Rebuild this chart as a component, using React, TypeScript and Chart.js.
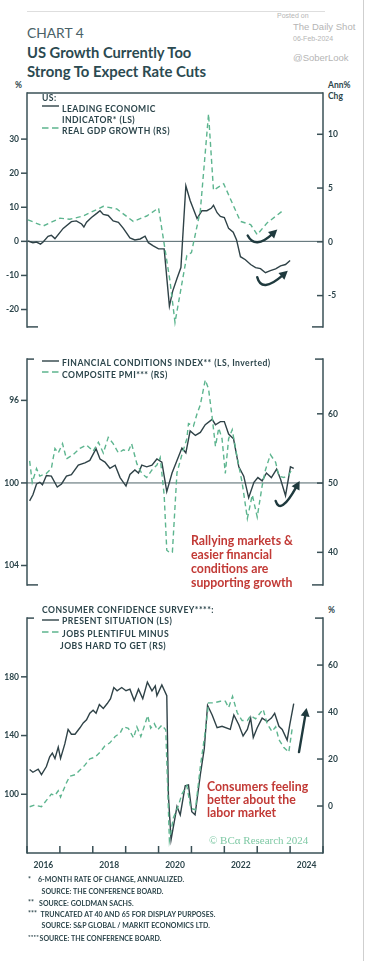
import React, { useEffect, useRef } from 'react';
import { Chart, registerables } from 'chart.js';
Chart.register(...registerables);

// ---------------- DATA ----------------
// Panel 1: Leading Economic Indicator (LS, %) and Real GDP growth (RS, Ann% Chg)
const leiYears = [2016.03, 2016.18, 2016.29, 2016.41, 2016.49, 2016.64, 2016.74, 2016.85, 2017.1, 2017.35, 2017.5, 2017.66, 2017.73, 2017.81, 2017.96, 2018.12, 2018.22, 2018.32, 2018.47, 2018.62, 2018.78, 2018.93, 2019.13, 2019.28, 2019.44, 2019.59, 2019.69, 2019.84, 2020.0, 2020.17, 2020.33, 2020.43, 2020.56, 2020.68, 2020.83, 2020.96, 2021.17, 2021.32, 2021.47, 2021.6, 2021.67, 2021.78, 2021.88, 2022.0, 2022.13, 2022.27, 2022.37, 2022.49, 2022.64, 2022.8, 2022.95, 2023.1, 2023.25, 2023.4, 2023.56, 2023.71, 2023.86, 2024.0];
const leiValues = [0.1, -0.4, -0.2, -0.8, -0.2, 1.5, 1.8, 0.8, 3.8, 5.8, 6.0, 5.1, 4.2, 5.6, 7.0, 8.2, 9.0, 7.9, 7.6, 6.0, 5.6, 3.8, 1.0, 0.4, 0.7, 1.5, -0.4, -1.3, -2.2, -2.2, -19.0, -14.6, -10.9, -7.7, 16.3, 12.0, 6.7, 9.0, 9.0, 9.7, 10.6, 8.4, 7.3, 7.0, 3.8, 2.7, 0.5, -4.5, -5.4, -6.8, -7.7, -8.0, -9.2, -8.6, -8.1, -7.2, -6.8, -5.6];
const gdpYears = [2016.03, 2016.49, 2017.0, 2017.3, 2017.71, 2018.32, 2018.73, 2019.23, 2019.64, 2020.0, 2020.35, 2020.5, 2020.86, 2021.0, 2021.27, 2021.52, 2021.67, 2021.98, 2022.49, 2022.8, 2023.0, 2023.3, 2023.81];
const gdpValues = [2.05, 1.47, 2.2, 2.1, 2.4, 3.3, 3.06, 1.9, 2.4, 3.15, -3.7, -7.5, -1.27, -1.0, 2.9, 11.9, 4.8, 5.4, 1.9, 1.6, 0.67, 1.76, 2.97];

// Panel 2: Financial conditions index (LS, inverted) and Composite PMI (RS)
const fciYears = [2016.08, 2016.18, 2016.29, 2016.39, 2016.47, 2016.59, 2016.74, 2016.92, 2017.05, 2017.2, 2017.35, 2017.56, 2017.76, 2017.91, 2018.1, 2018.22, 2018.37, 2018.52, 2018.68, 2018.83, 2019.01, 2019.13, 2019.28, 2019.39, 2019.49, 2019.64, 2019.8, 2019.95, 2020.1, 2020.25, 2020.41, 2020.56, 2020.71, 2020.83, 2020.96, 2021.12, 2021.27, 2021.42, 2021.63, 2021.73, 2021.88, 2022.0, 2022.13, 2022.28, 2022.44, 2022.59, 2022.74, 2022.9, 2023.02, 2023.15, 2023.28, 2023.43, 2023.59, 2023.71, 2023.86, 2024.01, 2024.11];
const fciValues = [100.87, 100.57, 100.05, 99.97, 100.09, 99.64, 99.67, 100.2, 100.05, 99.67, 99.6, 99.14, 99.03, 98.91, 98.34, 98.84, 98.99, 99.29, 99.14, 99.74, 100.15, 99.59, 99.37, 99.52, 99.14, 99.22, 99.14, 98.84, 98.99, 100.42, 99.52, 98.91, 98.31, 98.54, 97.48, 97.7, 97.55, 97.18, 96.92, 97.18, 97.03, 97.03, 97.63, 97.86, 99.22, 99.67, 100.72, 99.97, 99.74, 99.9, 99.52, 99.74, 99.33, 99.82, 100.62, 99.22, 99.29];
const pmiYears = [2016.08, 2016.16, 2016.29, 2016.39, 2016.59, 2016.74, 2016.85, 2016.95, 2017.08, 2017.2, 2017.4, 2017.61, 2017.81, 2018.01, 2018.17, 2018.32, 2018.47, 2018.62, 2018.78, 2018.93, 2019.08, 2019.18, 2019.34, 2019.49, 2019.64, 2019.8, 2019.95, 2020.05, 2020.17, 2020.25, 2020.33, 2020.42, 2020.56, 2020.71, 2020.86, 2020.91, 2021.06, 2021.17, 2021.27, 2021.42, 2021.52, 2021.63, 2021.73, 2021.83, 2021.93, 2022.03, 2022.13, 2022.24, 2022.39, 2022.54, 2022.7, 2022.85, 2023.0, 2023.15, 2023.25, 2023.4, 2023.56, 2023.66, 2023.81, 2023.96, 2024.07];
const pmiValues = [53.2, 50.1, 52.1, 51.0, 51.4, 52.1, 55.0, 54.35, 55.7, 53.5, 54.1, 55.0, 55.5, 54.6, 55.9, 54.35, 56.6, 55.7, 54.35, 54.8, 54.6, 55.7, 52.8, 51.4, 50.8, 51.9, 52.6, 53.7, 48.3, 40.3, 40.0, 40.0, 51.5, 54.1, 56.4, 58.6, 58.2, 60.0, 61.3, 64.9, 63.6, 59.5, 55.3, 57.95, 56.4, 51.4, 56.4, 57.7, 53.7, 50.1, 44.9, 48.3, 45.1, 49.6, 51.9, 54.1, 53.0, 51.0, 50.8, 51.2, 52.1];

// Panel 3: Consumer confidence present situation (LS) and jobs plentiful minus hard to get (RS, %)
const presYears = [2016.08, 2016.18, 2016.34, 2016.44, 2016.59, 2016.69, 2016.77, 2016.85, 2016.95, 2017.02, 2017.15, 2017.25, 2017.35, 2017.46, 2017.61, 2017.71, 2017.81, 2017.91, 2018.01, 2018.1, 2018.2, 2018.32, 2018.44, 2018.54, 2018.64, 2018.74, 2018.88, 2019.01, 2019.13, 2019.26, 2019.39, 2019.52, 2019.66, 2019.8, 2019.9, 2019.95, 2020.1, 2020.25, 2020.3, 2020.38, 2020.56, 2020.66, 2020.81, 2020.91, 2021.01, 2021.11, 2021.27, 2021.39, 2021.49, 2021.63, 2021.78, 2021.93, 2022.18, 2022.29, 2022.44, 2022.57, 2022.7, 2022.8, 2022.88, 2023.0, 2023.15, 2023.3, 2023.43, 2023.53, 2023.66, 2023.76, 2023.91, 2023.99, 2024.11];
const presValues = [116.9, 115.0, 117.1, 113.4, 118.9, 125.5, 128.1, 124.4, 132.1, 124.4, 134.3, 144.2, 140.9, 140.9, 145.3, 148.6, 150.7, 155.2, 157.3, 155.2, 161.1, 158.5, 161.8, 165.1, 172.7, 170.5, 172.7, 170.5, 171.6, 163.9, 171.6, 165.1, 176.4, 170.5, 173.8, 167.2, 174.5, 167.2, 99.1, 69.0, 91.6, 86.0, 105.7, 106.4, 88.1, 86.0, 113.4, 131.0, 160.6, 154.0, 145.3, 146.3, 144.2, 154.0, 147.4, 139.7, 144.2, 151.9, 138.7, 145.3, 151.9, 149.6, 151.9, 155.2, 146.3, 144.2, 136.9, 147.4, 161.8];
const jobsYears = [2016.08, 2016.23, 2016.44, 2016.59, 2016.74, 2016.85, 2016.95, 2017.02, 2017.2, 2017.3, 2017.46, 2017.61, 2017.76, 2017.91, 2018.07, 2018.22, 2018.37, 2018.52, 2018.68, 2018.83, 2018.93, 2019.08, 2019.24, 2019.34, 2019.46, 2019.56, 2019.67, 2019.76, 2019.87, 2019.97, 2020.1, 2020.22, 2020.33, 2020.45, 2020.61, 2020.71, 2020.86, 2020.98, 2021.12, 2021.27, 2021.42, 2021.52, 2021.67, 2021.88, 2022.03, 2022.13, 2022.25, 2022.39, 2022.54, 2022.7, 2022.8, 2022.95, 2023.18, 2023.3, 2023.45, 2023.56, 2023.66, 2023.81, 2023.96, 2024.07];
const jobsValues = [-0.3, 0.4, -0.3, 2.4, 5.1, 4.5, 6.5, 3.8, 9.9, 12.7, 13.3, 15.3, 17.4, 20.1, 20.8, 22.9, 25.6, 26.9, 29.6, 31.0, 33.7, 33.1, 29.0, 33.7, 29.6, 33.7, 38.5, 33.1, 35.1, 32.4, 34.4, 32.4, -14.6, -5.1, 0.4, 5.1, 8.6, -1.0, -1.6, 16.7, 31.7, 43.9, 43.9, 44.6, 44.6, 41.9, 46.7, 39.8, 36.4, 36.4, 38.5, 37.1, 41.2, 35.1, 31.7, 33.7, 28.3, 24.9, 22.9, 33.7];

// Axis ticks
const yearTicks = [2016, 2017, 2018, 2019, 2020, 2021, 2022, 2023, 2024, 2025];
const yearLabelYears = [2016, 2018, 2020, 2022, 2024];
const p1LeftTicks = [-20, -10, 0, 10, 20, 30];
const p1RightTicks = [-5, 0, 5, 10];
const p2LeftTicks = [96, 100, 104];
const p2RightTicks = [40, 50, 60];
const p3LeftTicks = [100, 140, 180];
const p3RightTicks = [0, 20, 40, 60];

// Annotation arrows (data coordinates: year, left-axis value)
const p1Arrows = [
  { from: [2022.71, 1.7], ctrl: [2022.94, -2.5], to: [2023.61, 3.5] },
  { from: [2023.0, -10.5], ctrl: [2023.13, -15.4], to: [2023.93, -8.65] },
];
const p2Arrows = [{ from: [2023.56, 100.87], ctrl: [2023.7, 101.6], to: [2024.29, 99.9] }];
const p3Arrows = [{ from: [2024.27, 128.7], ctrl: [2024.385, 143.75], to: [2024.5, 158.8] }];

// ---------------- STYLE ----------------
const FONT = 'Lato, "Open Sans", sans-serif';
const INK = '#2c454b';
const FRAME = '#3a5056';
const SOLID = '#2f4247';
const GREEN = '#5db58f';
const RED = '#c23a36';
const ARROW = '#1f3a3e';

const pts = (xs: number[], ys: number[]) => xs.map((x, i) => ({ x, y: ys[i] }));

const decorPlugin = {
  id: 'decor',
  beforeDatasetsDraw(chart: any, _a: any, opts: any) {
    const { ctx, chartArea: a, scales } = chart;
    if (opts.refValue !== undefined && opts.refValue !== null) {
      const y = scales.yL.getPixelForValue(opts.refValue);
      ctx.save();
      ctx.strokeStyle = '#4f6469';
      ctx.lineWidth = 1;
      ctx.beginPath();
      ctx.moveTo(a.left, y);
      ctx.lineTo(a.right, y);
      ctx.stroke();
      ctx.restore();
    }
  },
  afterDraw(chart: any, _a: any, opts: any) {
    const { ctx, chartArea: a, scales } = chart;
    const line = (x1: number, y1: number, x2: number, y2: number) => {
      ctx.beginPath();
      ctx.moveTo(x1, y1);
      ctx.lineTo(x2, y2);
      ctx.stroke();
    };
    ctx.save();
    ctx.strokeStyle = FRAME;
    ctx.lineWidth = 1.5;
    ctx.lineCap = 'butt';
    line(a.left, a.top - 0.75, a.left, a.bottom + 0.75);
    line(a.right, a.top - 0.75, a.right, a.bottom + 0.75);
    if (opts.topFull) line(a.left, a.top, a.right, a.top);
    else {
      line(a.left, a.top, a.left + 7, a.top);
      line(a.right - 8, a.top, a.right, a.top);
    }
    if (opts.bottomFull) {
      line(a.left, a.bottom, a.right, a.bottom);
      yearTicks.forEach((yr) => {
        const x = scales.x.getPixelForValue(yr);
        line(x, a.bottom - 7, x, a.bottom);
      });
    } else {
      line(a.left, a.bottom, a.left + 11, a.bottom);
      line(a.right - 11, a.bottom, a.right, a.bottom);
    }
    scales.yL.ticks.forEach((t: any) => {
      const y = scales.yL.getPixelForValue(t.value);
      line(a.left - 6, y, a.left, y);
    });
    scales.yR.ticks.forEach((t: any) => {
      const y = scales.yR.getPixelForValue(t.value);
      line(a.right - 6, y, a.right, y);
    });
    // arrows
    (opts.arrows || []).forEach((ar: any) => {
      const X = (v: number) => scales.x.getPixelForValue(v);
      const Y = (v: number) => scales.yL.getPixelForValue(v);
      const p0 = [X(ar.from[0]), Y(ar.from[1])];
      const pc = [X(ar.ctrl[0]), Y(ar.ctrl[1])];
      const p1 = [X(ar.to[0]), Y(ar.to[1])];
      const dx = p1[0] - pc[0];
      const dy = p1[1] - pc[1];
      const len = Math.hypot(dx, dy) || 1;
      const ux = dx / len;
      const uy = dy / len;
      const head = 8.5;
      const end = [p1[0] - ux * (head - 2), p1[1] - uy * (head - 2)];
      ctx.strokeStyle = ARROW;
      ctx.fillStyle = ARROW;
      ctx.lineWidth = 2.4;
      ctx.lineCap = 'round';
      ctx.beginPath();
      ctx.moveTo(p0[0], p0[1]);
      ctx.quadraticCurveTo(pc[0], pc[1], end[0], end[1]);
      ctx.stroke();
      ctx.beginPath();
      ctx.moveTo(p1[0], p1[1]);
      ctx.lineTo(p1[0] - ux * head - uy * 4.5, p1[1] - uy * head + ux * 4.5);
      ctx.lineTo(p1[0] - ux * head + uy * 4.5, p1[1] - uy * head - ux * 4.5);
      ctx.closePath();
      ctx.fill();
    });
    ctx.restore();
  },
};

const tickFont = { family: FONT, size: 8.5, weight: 'bold' as const };

function yAxis(pos: 'left' | 'right', min: number, max: number, ticks: number[], reverse = false) {
  return {
    type: 'linear',
    position: pos,
    min,
    max,
    reverse,
    afterBuildTicks: (s: any) => {
      s.ticks = ticks.map((v) => ({ value: v }));
    },
    afterFit: (s: any) => {
      s.width = pos === 'left' ? 27 : 43;
    },
    ticks: {
      autoSkip: false,
      padding: pos === 'left' ? 8 : 5,
      color: INK,
      font: tickFont,
      callback: (v: any) => String(v),
    },
    grid: { display: false, drawTicks: false },
    border: { display: false },
  };
}

function xAxis(show: boolean) {
  if (!show) return { type: 'linear', min: 2016, max: 2025, display: false };
  return {
    type: 'linear',
    position: 'bottom',
    min: 2016,
    max: 2025,
    afterBuildTicks: (s: any) => {
      s.ticks = yearLabelYears.map((v) => ({ value: v + 0.5 }));
    },
    afterFit: (s: any) => {
      s.height = 24;
    },
    ticks: {
      autoSkip: false,
      maxRotation: 0,
      padding: 7,
      color: INK,
      font: tickFont,
      callback: (v: any) => String(Math.floor(v)),
    },
    grid: { display: false, drawTicks: false },
    border: { display: false },
  };
}

function solidDs(data: any[], axis: string) {
  return { data, yAxisID: axis, borderColor: SOLID, borderWidth: 1.4, pointRadius: 0, tension: 0, fill: false };
}
function dashDs(data: any[], axis: string) {
  return { data, yAxisID: axis, borderColor: GREEN, borderWidth: 1.4, borderDash: [5, 3.5], pointRadius: 0, tension: 0, fill: false };
}

function usePanel(ref: React.RefObject<HTMLCanvasElement>, build: () => any) {
  useEffect(() => {
    if (!ref.current) return;
    const chart = new Chart(ref.current, build());
    return () => chart.destroy();
  }, []);
}

function baseOptions(scales: any, decor: any, padBottom: number) {
  return {
    responsive: false,
    animation: false,
    layout: { padding: { top: 5, bottom: padBottom, left: 0, right: 0 } },
    plugins: { legend: { display: false }, tooltip: { enabled: false }, decor },
    scales,
  };
}

const Txt = ({ x, cy, size, children, weight = 700, color = INK, family = FONT, style = {} }: any) => {
  const L = Math.round(size * 1.4);
  return (
    <div
      style={{
        position: 'absolute',
        left: x,
        top: cy - L / 2,
        fontSize: size,
        lineHeight: L + 'px',
        fontWeight: weight,
        color,
        fontFamily: family,
        whiteSpace: 'nowrap',
        ...style,
      }}
    >
      {children}
    </div>
  );
};

const LEG = { letterSpacing: '0.45px' };
const NOTE = { letterSpacing: '0.05px' };

const Sample = ({ y, dashed }: { y: number; dashed?: boolean }) => (
  <svg style={{ position: 'absolute', left: 42, top: y - 2 }} width={17} height={4}>
    <line x1={0} y1={2} x2={17} y2={2} stroke={dashed ? GREEN : SOLID} strokeWidth={1.4} strokeDasharray={dashed ? '6.5,3.5' : undefined} />
  </svg>
);

export default function App() {
  const c1 = useRef<HTMLCanvasElement>(null);
  const c2 = useRef<HTMLCanvasElement>(null);
  const c3 = useRef<HTMLCanvasElement>(null);

  usePanel(c1, () => ({
    type: 'line',
    data: { datasets: [dashDs(pts(gdpYears, gdpValues), 'yR'), solidDs(pts(leiYears, leiValues), 'yL')] },
    options: baseOptions(
      { x: xAxis(false), yL: yAxis('left', -25.1, 43.5, p1LeftTicks), yR: yAxis('right', -7.91, 13.83, p1RightTicks) },
      { refValue: 0, topFull: true, bottomFull: false, arrows: p1Arrows },
      5
    ),
    plugins: [decorPlugin],
  }));

  usePanel(c2, () => ({
    type: 'line',
    data: { datasets: [dashDs(pts(pmiYears, pmiValues), 'yR'), solidDs(pts(fciYears, fciValues), 'yL')] },
    options: baseOptions(
      { x: xAxis(false), yL: yAxis('left', 94.0, 104.94, p2LeftTicks, true), yR: yAxis('right', 35.3, 67.9, p2RightTicks) },
      { refValue: 100, topFull: false, bottomFull: false, arrows: p2Arrows },
      5
    ),
    plugins: [decorPlugin],
  }));

  usePanel(c3, () => ({
    type: 'line',
    data: { datasets: [dashDs(pts(jobsYears, jobsValues), 'yR'), solidDs(pts(presYears, presValues), 'yL')] },
    options: baseOptions(
      { x: xAxis(true), yL: yAxis('left', 60, 220, p3LeftTicks), yR: yAxis('right', -20, 80, p3RightTicks) },
      { refValue: null, topFull: false, bottomFull: true, arrows: p3Arrows },
      0
    ),
    plugins: [decorPlugin],
  }));

  const grey = '#b5b5b5';
  const wm = '"Liberation Sans", Arial, sans-serif';

  return (
    <div style={{ position: 'absolute', left: 0, top: 0, width: 366, height: 961, background: '#fff', overflow: 'hidden' }}>
      {/* page decorations */}
      <div style={{ position: 'absolute', left: 27, top: 11, width: 298, height: 1, background: '#dedede' }} />
      <div style={{ position: 'absolute', left: 363, top: 0, width: 1, height: 961, background: '#cfcfcf' }} />

      {/* watermark */}
      <Txt x={277} cy={16.2} size={7} weight={400} color={grey} family={wm}>Posted on</Txt>
      <Txt x={293} cy={26.7} size={9.5} weight={400} color={grey} family={wm}>The Daily Shot</Txt>
      <Txt x={293} cy={38.8} size={7} weight={400} color={grey} family={wm}>06-Feb-2024</Txt>
      <Txt x={293} cy={57.7} size={9.5} weight={400} color={grey} family={wm}>@SoberLook</Txt>

      {/* title */}
      <Txt x={27} cy={32.3} size={13.8} weight={400} color="#4a6167">CHART 4</Txt>
      <Txt x={27} cy={51.5} size={16} weight={700} color="#2b4a51" style={{ transform: 'scaleX(0.92)', transformOrigin: 'left center' }}>US Growth Currently Too</Txt>
      <Txt x={27} cy={70.5} size={16} weight={700} color="#2b4a51" style={{ transform: 'scaleX(0.93)', transformOrigin: 'left center' }}>Strong To Expect Rate Cuts</Txt>

      {/* axis unit labels */}
      <Txt x={15} cy={85} size={8.5}>%</Txt>
      <Txt x={328} cy={84.5} size={8.5}>Ann%</Txt>
      <Txt x={328} cy={95.5} size={8.5}>Chg</Txt>
      <Txt x={328} cy={610} size={8.5}>%</Txt>

      {/* charts */}
      <canvas ref={c1} width={366} height={260} style={{ position: 'absolute', left: 0, top: 80, width: 366, height: 260 }} />
      <canvas ref={c2} width={366} height={252} style={{ position: 'absolute', left: 0, top: 346, width: 366, height: 252 }} />
      <canvas ref={c3} width={366} height={272} style={{ position: 'absolute', left: 0, top: 605, width: 366, height: 272 }} />

      {/* panel 1 legend */}
      <Txt x={42} cy={97.7} size={8.6} style={LEG}>US:</Txt>
      <Sample y={105.7} />
      <Txt x={62} cy={108.7} size={8.6} style={LEG}>LEADING ECONOMIC</Txt>
      <Txt x={62} cy={119.5} size={8.6} style={LEG}>INDICATOR* (LS)</Txt>
      <Sample y={127.7} dashed />
      <Txt x={62} cy={130.7} size={8.6} style={LEG}>REAL GDP GROWTH (RS)</Txt>

      {/* panel 2 legend */}
      <Sample y={360.7} />
      <Txt x={62} cy={363.3} size={8.6} style={LEG}>FINANCIAL CONDITIONS INDEX** (LS, Inverted)</Txt>
      <Sample y={372.3} dashed />
      <Txt x={62} cy={374.7} size={8.6} style={LEG}>COMPOSITE PMI*** (RS)</Txt>

      {/* panel 2 annotation */}
      <Txt x={191} cy={540.5} size={12.3} color={RED}>Rallying markets &amp;</Txt>
      <Txt x={191} cy={554.5} size={12.3} color={RED}>easier financial</Txt>
      <Txt x={191} cy={568.5} size={12.3} color={RED}>conditions are</Txt>
      <Txt x={191} cy={582.5} size={12.3} color={RED}>supporting growth</Txt>

      {/* panel 3 legend */}
      <Txt x={42} cy={609.7} size={8.6} style={LEG}>CONSUMER CONFIDENCE SURVEY****:</Txt>
      <Sample y={619.5} />
      <Txt x={62} cy={621.3} size={8.6} style={LEG}>PRESENT SITUATION (LS)</Txt>
      <Sample y={631.5} dashed />
      <Txt x={62} cy={633.7} size={8.6} style={LEG}>JOBS PLENTIFUL MINUS</Txt>
      <Txt x={60} cy={645.7} size={8.6} style={LEG}>JOBS HARD TO GET (RS)</Txt>

      {/* panel 3 annotation */}
      <Txt x={207} cy={786.2} size={12.3} color={RED}>Consumers feeling</Txt>
      <Txt x={207} cy={799.5} size={12.3} color={RED}>better about the</Txt>
      <Txt x={207} cy={812.8} size={12.3} color={RED}>labor market</Txt>
      <Txt x={209} cy={840} size={11} weight={400} color="#7fc9a5" family='"Liberation Serif", "DejaVu Serif", serif'>© BCα Research 2024</Txt>

      {/* footnotes */}
      <Txt x={28} cy={878.5} size={7} style={NOTE}>*</Txt>
      <Txt x={38} cy={879.2} size={7} style={NOTE}>6-MONTH RATE OF CHANGE, ANNUALIZED.</Txt>
      <Txt x={41.5} cy={890.8} size={7} style={NOTE}>SOURCE: THE CONFERENCE BOARD.</Txt>
      <Txt x={28} cy={901.8} size={7} style={NOTE}>**</Txt>
      <Txt x={39} cy={902.5} size={7} style={NOTE}>SOURCE: GOLDMAN SACHS.</Txt>
      <Txt x={28} cy={912.8} size={7} style={NOTE}>***</Txt>
      <Txt x={40.5} cy={913.5} size={7} style={NOTE}>TRUNCATED AT 40 AND 65 FOR DISPLAY PURPOSES.</Txt>
      <Txt x={41.5} cy={925.2} size={7} style={NOTE}>SOURCE: S&amp;P GLOBAL / MARKIT ECONOMICS LTD.</Txt>
      <Txt x={28} cy={936.8} size={6.3} style={NOTE}>****</Txt>
      <Txt x={39.5} cy={937.5} size={7} style={NOTE}>SOURCE: THE CONFERENCE BOARD.</Txt>
    </div>
  );
}
